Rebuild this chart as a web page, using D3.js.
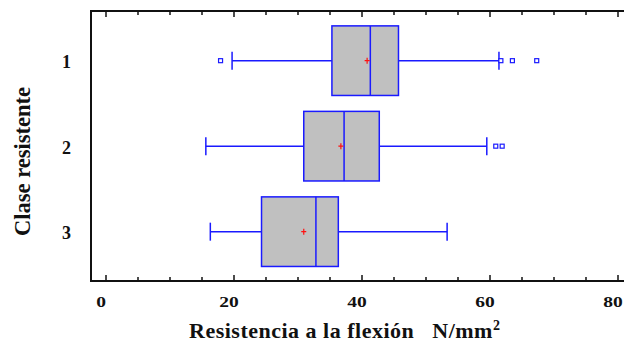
<!DOCTYPE html>
<html>
<head>
<meta charset="utf-8">
<script src="https://cdn.jsdelivr.net/npm/d3@7"></script>
<style>
  body { margin: 0; background: #fff; }
  text { font-family: "Liberation Serif", "DejaVu Serif", serif; font-weight: bold; fill: #111; }
</style>
</head>
<body>
<div id="chart"></div>
<script>
// data
const classes = [1, 2, 3];
const q1 = [35.3, 30.9, 24.3];
const median = [41.3, 37.2, 32.8];
const q3 = [45.7, 42.7, 36.3];
const mean = [40.8, 36.7, 30.9];
const whiskerLo = [19.7, 15.6, 16.3];
const whiskerHi = [61.4, 59.5, 53.3];
const outliers = [[17.9, 61.7, 63.5, 67.3], [60.9, 61.9], []];
const tickLabels = [0, 20, 40, 60, 80];

const width = 624;
const height = 342;
const plotLeft = 91, plotTop = 11, plotBottom = 281;

const svg = d3.select('#chart')
              .append("svg")
              .attr('width', width)
              .attr('height', height);

let x = d3.scaleLinear().domain([0, 80]).range([106, 618]);
let y = d3.scaleLinear().domain([0.419, 3.577]).range([plotTop, plotBottom]);
let boxHalf = 0.407;
let blue = "#1a1aff";

// frame: left, top, bottom (no right edge)
svg.append("path")
   .attr("d", "M" + width + "," + plotTop + "H" + plotLeft + "V" + plotBottom + "H" + width)
   .attr("fill", "none")
   .attr("stroke", "#111")
   .attr("stroke-width", 2);

let minor = d3.range(0, 81, 5);
// ticks point inward from top and bottom
svg.append("g").selectAll("line")
   .data(minor)
   .join("line")
     .attr("x1", d => x(d)).attr("x2", d => x(d))
     .attr("y1", plotBottom).attr("y2", d => plotBottom - (d % 20 == 0 ? 6 : 4))
     .attr("stroke", "#111").attr("stroke-width", 1.5);
svg.append("g").selectAll("line")
   .data(minor)
   .join("line")
     .attr("x1", d => x(d)).attr("x2", d => x(d))
     .attr("y1", plotTop).attr("y2", d => plotTop + (d % 20 == 0 ? 6 : 4))
     .attr("stroke", "#111").attr("stroke-width", 1.5);

// tick labels look horizontally stretched and sit a bit left of the ticks
svg.append("g").selectAll("text")
   .data(tickLabels)
   .join("text")
     .attr("transform", d => "translate(" + (x(d) - 5) + ",306.5) scale(1.3,1)")
     .attr("text-anchor", "middle")
     .attr("font-size", 15)
     .text(d => d);

svg.append("g").selectAll("text")
   .data(classes)
   .join("text")
     .attr("x", 66.5)
     .attr("y", d => y(d) + 7.5)
     .attr("text-anchor", "middle")
     .attr("font-size", 18)
     .text(d => d);

let title = svg.append("text")
   .attr("x", 189)
   .attr("y", 338)
   .attr("font-size", 22)
   .attr("letter-spacing", 0.5);
title.append("tspan").text("Resistencia a la flexión\u00a0\u00a0 N/mm");
title.append("tspan").attr("font-size", 14).attr("dy", -8).text("2");

svg.append("text")
   .attr("transform", "translate(29.5,161.5) rotate(-90)")
   .attr("text-anchor", "middle")
   .attr("font-size", 22.5)
   .text("Clase resistente");

let rows = svg.append("g").selectAll("g")
   .data(classes.map((c, i) => i))
   .join("g");

// whiskers
rows.append("line")
   .attr("x1", i => x(whiskerLo[i])).attr("x2", i => x(whiskerHi[i]))
   .attr("y1", i => y(classes[i])).attr("y2", i => y(classes[i]))
   .attr("stroke", blue).attr("stroke-width", 1.5);
rows.selectAll("line.cap")
   .data(i => [[i, whiskerLo[i]], [i, whiskerHi[i]]])
   .join("line")
     .attr("class", "cap")
     .attr("x1", d => x(d[1])).attr("x2", d => x(d[1]))
     .attr("y1", d => y(classes[d[0]]) - 9).attr("y2", d => y(classes[d[0]]) + 9)
     .attr("stroke", blue).attr("stroke-width", 1.5);

// box
rows.append("rect")
   .attr("x", i => x(q1[i]))
   .attr("width", i => x(q3[i]) - x(q1[i]))
   .attr("y", i => y(classes[i] - boxHalf))
   .attr("height", i => y(classes[i] + boxHalf) - y(classes[i] - boxHalf))
   .attr("fill", "#c0c0c0")
   .attr("stroke", blue).attr("stroke-width", 1.5);
rows.append("line")
   .attr("x1", i => x(median[i])).attr("x2", i => x(median[i]))
   .attr("y1", i => y(classes[i] - boxHalf)).attr("y2", i => y(classes[i] + boxHalf))
   .attr("stroke", blue).attr("stroke-width", 1.5);

// mean marker
rows.append("path")
   .attr("d", i => {
     let cx = x(mean[i]), cy = y(classes[i]);
     return "M" + (cx - 2.5) + "," + cy + "H" + (cx + 2.5) + "M" + cx + "," + (cy - 3) + "V" + (cy + 3);
   })
   .attr("stroke", "#ff1010").attr("stroke-width", 1.2);

// outliers
rows.selectAll("rect.out")
   .data(i => outliers[i].map(v => [i, v]))
   .join("rect")
     .attr("class", "out")
     .attr("x", d => x(d[1]) - 2)
     .attr("y", d => y(classes[d[0]]) - 2)
     .attr("width", 4).attr("height", 4)
     .attr("fill", "#fff")
     .attr("stroke", blue).attr("stroke-width", 1.2);
</script>
</body>
</html>
